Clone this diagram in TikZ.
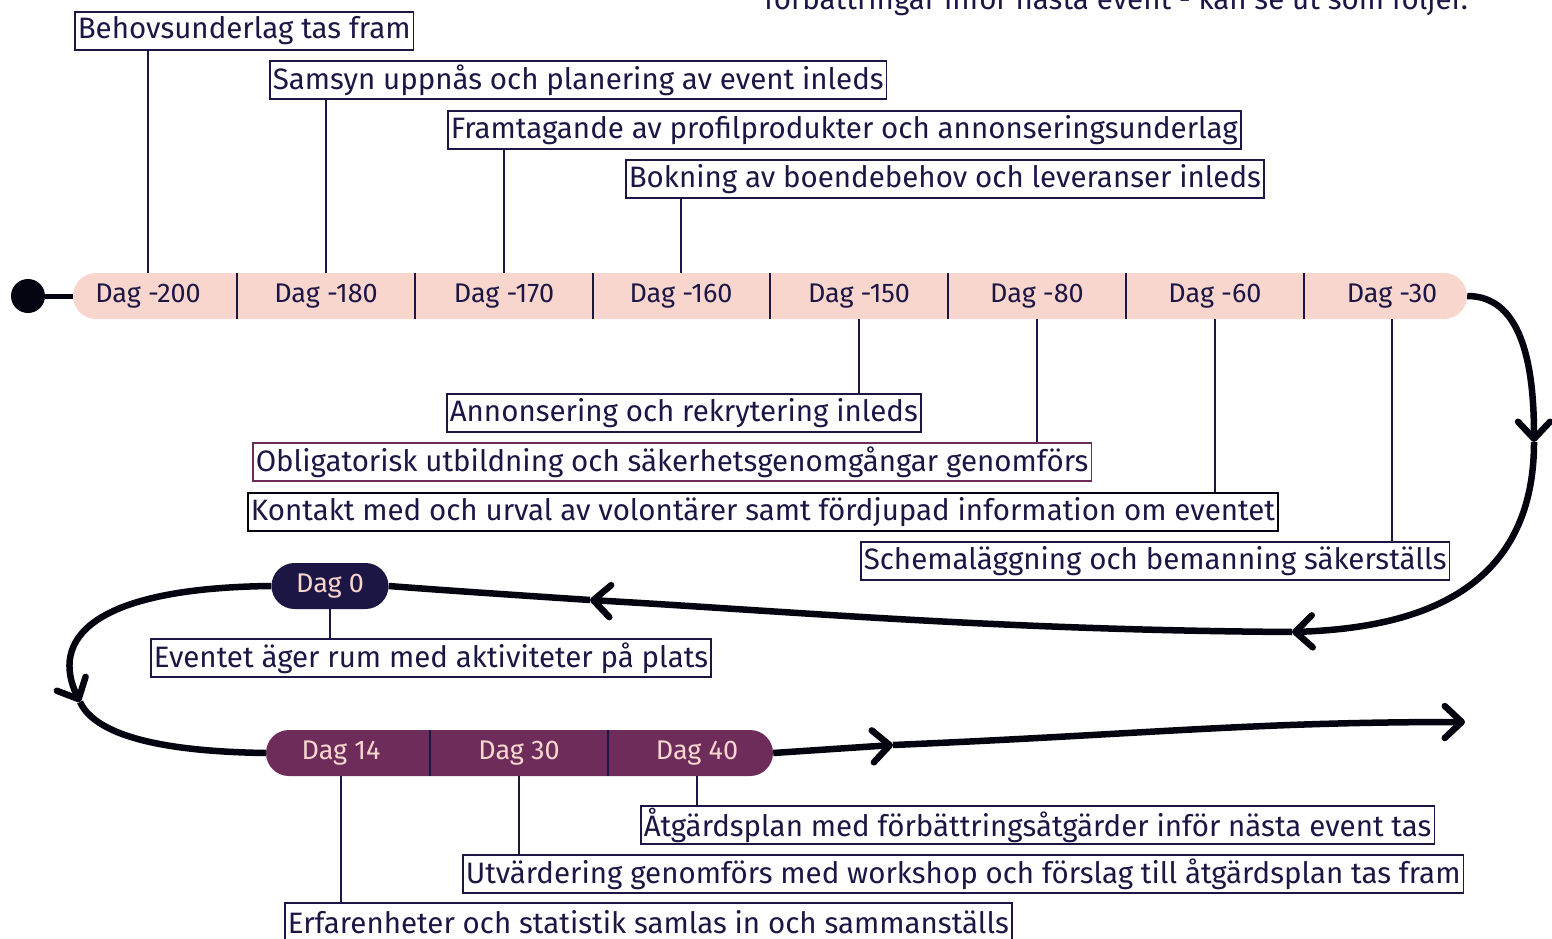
\documentclass[tikz,border=0pt]{standalone}
\usepackage{fontspec}
\setmainfont{Fira Sans}
\usetikzlibrary{arrows.meta}

\definecolor{navy}{HTML}{1C1645}
\definecolor{ink}{HTML}{03040F}
\definecolor{blush}{HTML}{F9D6CD}
\definecolor{plum}{HTML}{6E2C5B}

\newcommand\boxfont{\fontsize{29.5}{31}\selectfont}
\newcommand\dagfont{\fontsize{27}{29}\selectfont}

\tikzset{
  evbox/.style={draw=navy, line width=1.6pt, anchor=west, inner xsep=3pt, inner ysep=0pt,
    minimum height=38pt, font=\boxfont, text=navy},
  seg/.style={minimum width=178pt, minimum height=46pt, inner sep=0pt, font=\dagfont, text=navy},
  tick/.style={draw=navy, line width=1.8pt},
  divider/.style={draw=navy, line width=2.4pt},
  flow/.style={draw=ink, line width=6.5pt},
  chev/.style={-{Straight Barb[length=17pt,width=32pt,round]}}
}

\begin{document}
\begin{tikzpicture}[x=1pt,y=-1pt]

\useasboundingbox (0,0) rectangle (1552,939);

% text above, cut by the page edge
\node[anchor=base east, font=\boxfont, text=navy, inner sep=0pt] (intro) at (1468,10)
  {förbättringar inför nästa event - kan se ut som följer.};

% before the event
\node[fill=blush, rounded corners=23pt, minimum width=1394pt, minimum height=46pt] (topbar) at (770,296) {};
\node[seg] (s1) at (148,296) {Dag -200};
\node[seg] (s2) at (326,296) {Dag -180};
\node[seg] (s3) at (504,296) {Dag -170};
\node[seg] (s4) at (681,296) {Dag -160};
\node[seg] (s5) at (859,296) {Dag -150};
\node[seg] (s6) at (1037,296) {Dag -80};
\node[seg] (s7) at (1215,296) {Dag -60};
\node[seg] (s8) at (1392,296) {Dag -30};
\draw[divider] (s1.north east) -- (s1.south east);
\draw[divider] (s2.north east) -- (s2.south east);
\draw[divider] (s3.north east) -- (s3.south east);
\draw[divider] (s4.north east) -- (s4.south east);
\draw[divider] (s5.north east) -- (s5.south east);
\draw[divider] (s6.north east) -- (s6.south east);
\draw[divider] (s7.north east) -- (s7.south east);

\node[circle, fill=ink, inner sep=0pt, minimum size=34pt] (start) at (28,296) {};
\draw[ink, line width=5pt] (start) -- (topbar.west);

\node[evbox] (b1) at (74,31) {Behovsunderlag tas fram};
\node[evbox] (b2) at (269,80) {Samsyn uppnås och planering av event inleds};
\node[evbox] (b3) at (447,130) {Framtagande av profilprodukter och annonseringsunderlag};
\node[evbox] (b4) at (625,179) {Bokning av boendebehov och leveranser inleds};
\draw[tick] (s1.north) -- (b1.south -| s1.north);
\draw[tick] (s2.north) -- (b2.south -| s2.north);
\draw[tick] (s3.north) -- (b3.south -| s3.north);
\draw[tick] (s4.north) -- (b4.south -| s4.north);

\node[evbox] (b5) at (446,413) {Annonsering och rekrytering inleds};
\node[evbox, draw=plum] (b6) at (252,462) {Obligatorisk utbildning och säkerhetsgenomgångar genomförs};
\node[evbox, draw=ink] (b7) at (247,512) {Kontakt med och urval av volontärer samt fördjupad information om eventet};
\node[evbox] (b8) at (860,561) {Schemaläggning och bemanning säkerställs};
\draw[tick] (s5.south) -- (b5.north -| s5.south);
\draw[tick] (s6.south) -- (b6.north -| s6.south);
\draw[tick] (s7.south) -- (b7.north -| s7.south);
\draw[tick] (s8.south) -- (b8.north -| s8.south);

% the event
\node[fill=navy, rounded corners=23pt, minimum width=117pt, minimum height=46pt, inner sep=0pt,
  font=\dagfont, text=blush] (dag0) at (330,586) {Dag 0};
\node[evbox] (b9) at (150,658) {Eventet äger rum med aktiviteter på plats};
\draw[tick] (dag0.south) -- (b9.north -| dag0.south);

% after the event
\node[fill=plum, rounded corners=23pt, minimum width=507pt, minimum height=46pt] (botbar) at (519.5,753) {};
\node[seg, text=blush] (t1) at (341,753) {Dag 14};
\node[seg, text=blush] (t2) at (519,753) {Dag 30};
\node[seg, text=blush] (t3) at (697,753) {Dag 40};
\draw[divider] (t1.north east) -- (t1.south east);
\draw[divider] (t2.north east) -- (t2.south east);

\node[evbox] (b10) at (640,825) {Åtgärdsplan med förbättringsåtgärder inför nästa event tas};
\node[evbox] (b11) at (462,874) {Utvärdering genomförs med workshop och förslag till åtgärdsplan tas fram};
\node[evbox] (b12) at (284,922) {Erfarenheter och statistik samlas in och sammanställs};
\draw[tick] (t3.south) -- (b10.north -| t3.south);
\draw[tick] (t2.south) -- (b11.north -| t2.south);
\draw[tick] (t1.south) -- (b12.north -| t1.south);

% flow line
\coordinate (c1) at (1534,442);
\coordinate (c2) at (1292,632);
\coordinate (c3) at (590,600);
\coordinate (c4) at (80,702);
\coordinate (c5) at (893,745);
\coordinate (c6) at (1465,722);
\draw[flow, chev] (topbar.east) .. controls (1520,296) and (1534,360) .. (c1);
\draw[flow, chev] (c1) .. controls (1534,590) and (1420,628) .. (c2);
\draw[flow, chev] (c2) .. controls (1000,630) and (800,612) .. (c3);
\draw[flow] (c3) .. controls (500,594) and (440,590) .. (dag0.east);
\draw[flow, chev] (dag0.west) .. controls (90,588) and (50,640) .. (c4);
\draw[flow] (c4) .. controls (100,745) and (200,752) .. (botbar.west);
\draw[flow, chev] (botbar.east) -- (c5);
\draw[flow, chev] (c5) .. controls (1150,734) and (1250,722) .. (c6);

\end{tikzpicture}
\end{document}
